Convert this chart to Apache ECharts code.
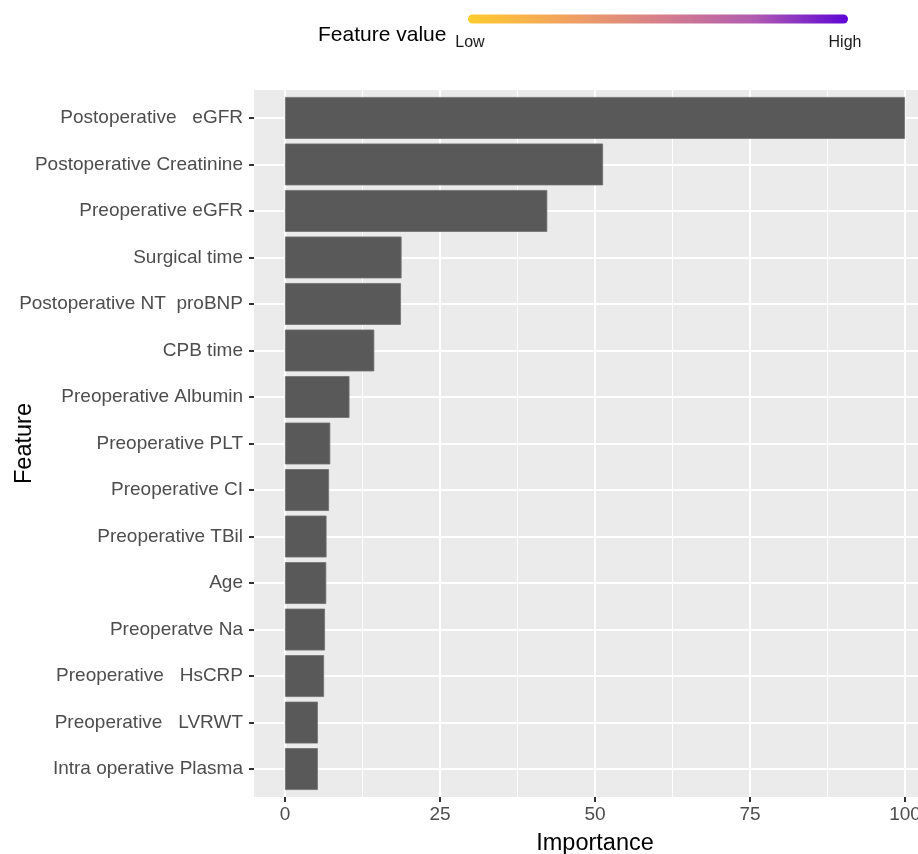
<!DOCTYPE html>
<html>
<head>
<meta charset="utf-8">
<script src="https://cdn.jsdelivr.net/npm/echarts@6/dist/echarts.min.js"></script>
<style>
html,body{margin:0;padding:0;background:#fff;}
#chart{width:918px;height:854px;}
</style>
</head>
<body>
<div id="chart"></div>
<script>
// ---- data (top to bottom) ----
const features = [
  'Postoperative   eGFR',
  'Postoperative Creatinine',
  'Preoperative eGFR',
  'Surgical time',
  'Postoperative NT  proBNP',
  'CPB time',
  'Preoperative Albumin',
  'Preoperative PLT',
  'Preoperative CI',
  'Preoperative TBil',
  'Age',
  'Preoperatve Na',
  'Preoperative   HsCRP',
  'Preoperative   LVRWT',
  'Intra operative Plasma'
];
const importance = [100, 51.3, 42.3, 18.8, 18.7, 14.4, 10.4, 7.3, 7.1, 6.7, 6.65, 6.45, 6.3, 5.3, 5.3];
const xTickValues = [0, 25, 50, 75, 100];
const legendTitle = 'Feature value';
const legendLabels = ['Low', 'High'];
const gradientColors = ['#FFCC2E', '#F2A35E', '#D6808A', '#B25CB0', '#5E06D6'];

const FONT = '"Liberation Sans", Arial, sans-serif';
const chart = echarts.init(document.getElementById('chart'), null, {renderer: 'canvas'});

const option = {
  backgroundColor: '#ffffff',
  animation: false,
  textStyle: {fontFamily: FONT},
  grid: [
    // panel background
    {left: 254, right: -18, top: 90, height: 707, show: true, backgroundColor: '#EBEBEB', borderWidth: 0,
     containLabel: false, outerBoundsMode: 'none'},
    // x scale 0..100 (vertical gridlines, ticks, labels)
    {left: 285, width: 620, top: 90, height: 707, show: false, containLabel: false, outerBoundsMode: 'none'},
    // bars (x -5..105, categories with ggplot padding)
    {left: 254, right: -18, top: 94.65, height: 697.7, show: false, containLabel: false, outerBoundsMode: 'none'}
  ],
  xAxis: [
    {gridIndex: 0, type: 'value', min: 0, max: 1, show: false},
    {
      gridIndex: 1, type: 'value', min: xTickValues[0], max: xTickValues[xTickValues.length - 1],
      interval: xTickValues[1] - xTickValues[0],
      axisLine: {show: false, onZero: false},
      axisTick: {show: true, length: 5, lineStyle: {color: '#333333', width: 2}},
      axisLabel: {show: true, color: '#4D4D4D', fontSize: 19, margin: 8, fontFamily: FONT, hideOverlap: false},
      splitLine: {show: true, lineStyle: {color: '#ffffff', width: 2}},
      minorTick: {show: false, splitNumber: 2},
      minorSplitLine: {show: true, lineStyle: {color: '#ffffff', width: 1}},
      name: 'Importance', nameLocation: 'middle', nameGap: 35, nameMoveOverlap: false,
      nameTextStyle: {color: '#000000', fontSize: 23.5, fontFamily: FONT}
    },
    {gridIndex: 2, type: 'value', min: -5, max: 105, show: false}
  ],
  yAxis: [
    {gridIndex: 0, type: 'value', min: 0, max: 1, show: false},
    {gridIndex: 1, type: 'value', min: 0, max: 1, show: false},
    {
      gridIndex: 2, type: 'category', inverse: true, data: features, position: 'left',
      axisLine: {show: false, onZero: false},
      axisTick: {show: true, alignWithLabel: true, length: 5, lineStyle: {color: '#333333', width: 2}},
      axisLabel: {show: true, color: '#4D4D4D', fontSize: 19, margin: 11, fontFamily: FONT, interval: 0},
      splitLine: {show: true, alignWithLabel: true, lineStyle: {color: '#ffffff', width: 2}},
      name: 'Feature', nameLocation: 'middle', nameRotate: 90, nameGap: 217, nameMoveOverlap: false,
      nameTextStyle: {color: '#000000', fontSize: 23.5, fontFamily: FONT}
    }
  ],
  series: [{
    type: 'bar',
    xAxisIndex: 2, yAxisIndex: 2,
    data: importance,
    barCategoryGap: '10%',
    itemStyle: {color: '#595959', borderColor: '#707070', borderWidth: 0.8},
    z: 3
  }],
  graphic: [
    {
      type: 'rect', left: 468, top: 14.5, z: 10,
      shape: {width: 380, height: 9, r: 4.5},
      style: {
        fill: new echarts.graphic.LinearGradient(0, 0, 1, 0,
          gradientColors.map((c, i) => ({offset: i / (gradientColors.length - 1), color: c})))
      }
    },
    {
      type: 'text', x: 318, y: 35, z: 10,
      style: {text: legendTitle, fill: '#000000', font: '21px ' + FONT, align: 'left', verticalAlign: 'middle'}
    },
    {
      type: 'text', x: 470, y: 43, z: 10,
      style: {text: legendLabels[0], fill: '#1a1a1a', font: '16px ' + FONT, align: 'center', verticalAlign: 'middle'}
    },
    {
      type: 'text', x: 845, y: 43, z: 10,
      style: {text: legendLabels[1], fill: '#1a1a1a', font: '16px ' + FONT, align: 'center', verticalAlign: 'middle'}
    }
  ]
};
chart.setOption(option);
</script>
</body>
</html>
